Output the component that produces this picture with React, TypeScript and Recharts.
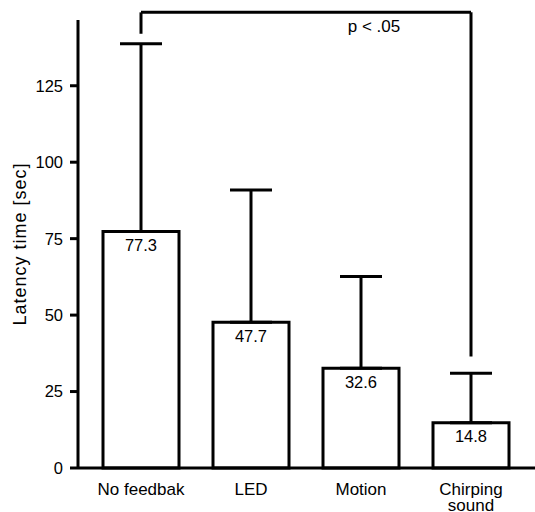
import { BarChart, Bar, XAxis, YAxis, ErrorBar, LabelList, ReferenceLine } from 'recharts';

const conditions = ['No feedbak', 'LED', 'Motion', 'Chirping\nsound'];
const latency = [77.3, 47.7, 32.6, 14.8];
const upperError = [61.4, 43.2, 30.0, 16.2];
const yTicks = [0, 25, 50, 75, 100, 125];

// significance bracket between first and last bar
const bracketTop = 149;
const bracketLeftEnd = 142;
const bracketRightEnd = 36.5;
const bracketText = 'p < .05';

const data = conditions.map((name, i) => ({
  name,
  latency: latency[i],
  err: [0, upperError[i]],
}));

const FONT = '"Liberation Sans", Arial, Helvetica, sans-serif';

const CategoryTick = ({ x, y, payload }: any) => {
  const lines = String(payload.value).split('\n');
  return (
    <text x={x} y={y + 7} textAnchor="middle" fontSize={17} fontFamily={FONT} fill="#000">
      {lines.map((line, i) => (
        <tspan key={i} x={x} dy={i === 0 ? '0.71em' : 16}>
          {line}
        </tspan>
      ))}
    </text>
  );
};

const BracketLabel = ({ viewBox }: any) => (
  <text
    x={viewBox.x + viewBox.width - 97}
    y={viewBox.y + 14}
    textAnchor="middle"
    dominantBaseline="central"
    fontSize={17}
    fontFamily={FONT}
    fill="#000"
  >
    {bracketText}
  </text>
);

export default function App() {
  return (
    <div style={{ position: 'absolute', left: 0, top: 0, width: 535, height: 512, background: '#fff' }}>
      <BarChart width={535} height={512} data={data} margin={{ top: 20, right: 0, bottom: 0, left: 0 }}>
        <XAxis
          dataKey="name"
          height={44}
          tickLine={false}
          axisLine={{ stroke: '#000', strokeWidth: 3 }}
          padding={{ left: 8, right: 9 }}
          tick={<CategoryTick />}
          interval={0}
        />
        <YAxis
          width={78}
          domain={[0, 146.5]}
          ticks={yTicks}
          tickSize={8}
          tickMargin={7}
          axisLine={{ stroke: '#000', strokeWidth: 3 }}
          tickLine={{ stroke: '#000', strokeWidth: 3 }}
          tick={{ fill: '#000', fontSize: 16.5, fontFamily: FONT }}
          label={{
            value: 'Latency time [sec]',
            angle: -90,
            position: 'insideLeft',
            offset: 20,
            style: { textAnchor: 'middle', fill: '#000', fontSize: 18, letterSpacing: 1, fontFamily: FONT },
          }}
        />
        <Bar dataKey="latency" barSize={76} fill="#fff" stroke="#000" strokeWidth={3} isAnimationActive={false}>
          <ErrorBar dataKey="err" width={21} stroke="#000" strokeWidth={3} direction="y" />
          <LabelList
            dataKey="latency"
            position="insideTop"
            offset={8}
            fill="#000"
            fontSize={16.5}
            fontFamily={FONT}
          />
        </Bar>
        <ReferenceLine
          segment={[{ x: conditions[0], y: bracketTop }, { x: conditions[3], y: bracketTop }]}
          stroke="#000"
          strokeWidth={3}
          ifOverflow="visible"
          label={<BracketLabel />}
        />
        <ReferenceLine
          segment={[{ x: conditions[0], y: bracketTop }, { x: conditions[0], y: bracketLeftEnd }]}
          stroke="#000"
          strokeWidth={3}
          ifOverflow="visible"
        />
        <ReferenceLine
          segment={[{ x: conditions[3], y: bracketTop }, { x: conditions[3], y: bracketRightEnd }]}
          stroke="#000"
          strokeWidth={3}
          ifOverflow="visible"
        />
      </BarChart>
    </div>
  );
}
